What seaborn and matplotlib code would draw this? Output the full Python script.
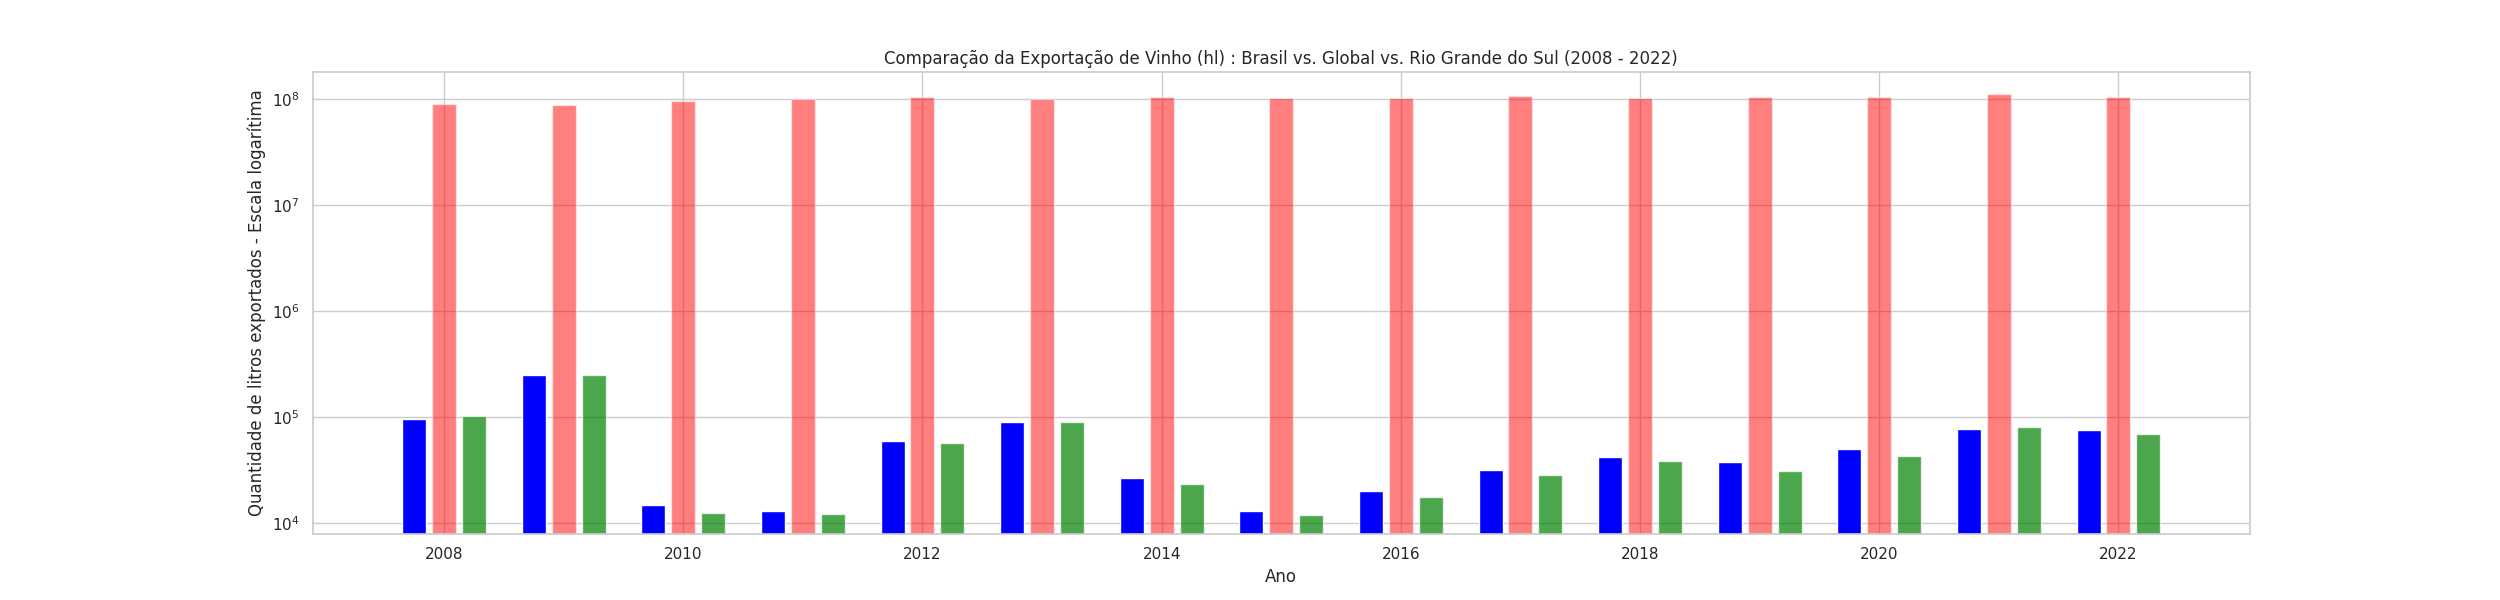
import matplotlib
matplotlib.use('Agg')
import matplotlib.pyplot as plt
import numpy as np
import seaborn as sns

# ─── Data ─────────────────────────────────────────────────────────────────────

anos = list(range(2008, 2023))

brasil = [96000, 250000, 14700, 12800, 59000, 89000, 26500, 12800,
          20000, 31500, 41600, 37500, 49500, 77000, 76000]

global_ = [90e6, 88e6, 96e6, 101e6, 104e6, 101e6, 104e6, 103e6,
           103e6, 108e6, 103e6, 106e6, 106e6, 111e6, 106e6]

rs = [101000, 248000, 12500, 12200, 57000, 90000, 23000, 11900,
      17500, 28000, 38000, 30500, 43000, 80000, 69000]

# ─── Plot ─────────────────────────────────────────────────────────────────────

sns.set_theme(style='whitegrid')

x = np.array(anos)
width = 0.2

fig, ax = plt.subplots(figsize=(25, 6))
ax.bar(x - 0.25, brasil, width=width, color='blue', label='Brasil')
ax.bar(x, global_, width=width, color='red', alpha=0.5, label='Global')
ax.bar(x + 0.25, rs, width=width, color='green', alpha=0.7, label='Rio Grande do Sul')

ax.set_yscale('log')
ax.set_ylim(10 ** 3.894, 10 ** 8.257)
ax.set_xlim(2006.9, 2023.1)
ax.set_xticks(range(2008, 2023, 2))

ax.set_xlabel('Ano')
ax.set_ylabel('Quantidade de litros exportados - Escala logarítima')
ax.set_title('Comparação da Exportação de Vinho (hl) : Brasil vs. Global vs. Rio Grande do Sul (2008 - 2022)')

plt.savefig('out.png', dpi=100)
